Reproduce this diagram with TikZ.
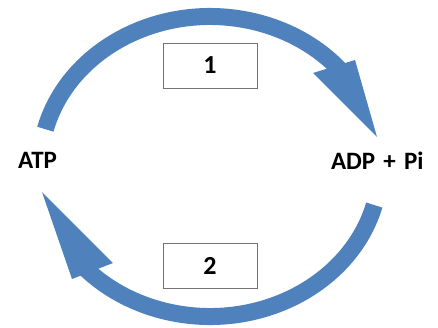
\documentclass[tikz,border=0pt]{standalone}
\usepackage{fontspec}
\setmainfont{Carlito}
\definecolor{cycleblue}{HTML}{4F81BD}

\begin{document}
\begin{tikzpicture}[x=1pt, y=1pt,
  shaft/.style={cycleblue, line width=17pt},
  head/.style={fill=cycleblue},
  numbox/.style={draw=black!55, line width=0.9pt, minimum width=94pt, minimum height=45pt,
    font=\fontsize{26}{26}\selectfont\bfseries},
  species/.style={font=\fontsize{25}{25}\selectfont\bfseries}]
\useasboundingbox (0,0) rectangle (438,327);
\coordinate (c) at (210,160.5);
\node[species] (atp) at (37.5,166.5) {ATP};
\node[species] (adp) at (377.3,166.5) {ADP\hspace{0.1em} + \hspace{0.1em}Pi};
\node[numbox] (one) at (210,261.5) {1};
\node[numbox] (two) at (210,61.5) {2};
% arrow 1: ATP -> ADP + Pi
\coordinate (tipa) at (377,190);
\draw[shaft] (c) ++(165.6:170pt and 150pt) arc[start angle=165.6, end angle=38, x radius=170pt, y radius=150pt];
\fill[head] (313,254) -- (355,267) -- (tipa) -- cycle;
% arrow 2: ADP + Pi -> ATP
\coordinate (tipb) at (42,135);
\draw[shaft] (c) ++(-14.9:170pt and 150pt) arc[start angle=-14.9, end angle=-139, x radius=170pt, y radius=150pt];
\fill[head] (113,64) -- (72,48) -- (tipb) -- cycle;
\end{tikzpicture}
\end{document}
